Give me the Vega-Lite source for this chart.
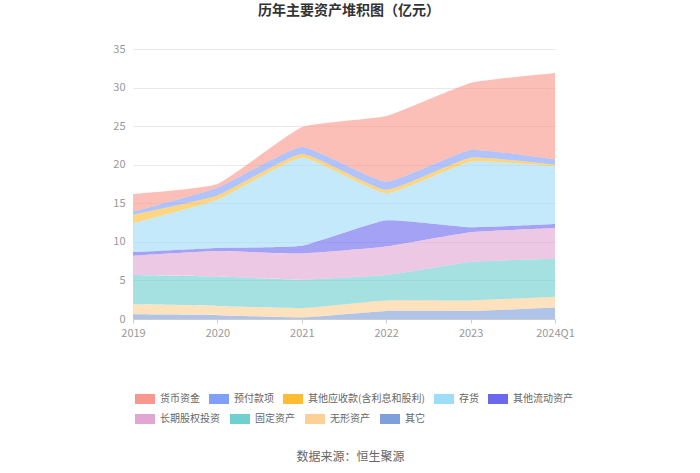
{
  "$schema": "https://vega.github.io/schema/vega-lite/v6.json",
  "width": 422,
  "height": 270,
  "autosize": "none",
  "padding": {"left": 133, "top": 49, "right": 145, "bottom": 154},
  "background": "white",
  "config": {
    "font": "Noto Sans CJK SC",
    "view": {"stroke": null}
  },
  "title": {
    "text": "历年主要资产堆积图（亿元）",
    "fontSize": 14,
    "fontWeight": "bold",
    "color": "#333333",
    "anchor": "middle",
    "offset": 25,
    "dx": 5
  },
  "data": {
    "values": [
      {"year": "2019", "asset": "其它", "k": 1, "value": 0.6},
      {"year": "2019", "asset": "无形资产", "k": 2, "value": 1.3},
      {"year": "2019", "asset": "固定资产", "k": 3, "value": 3.8},
      {"year": "2019", "asset": "长期股权投资", "k": 4, "value": 2.5},
      {"year": "2019", "asset": "其他流动资产", "k": 5, "value": 0.46},
      {"year": "2019", "asset": "存货", "k": 6, "value": 3.74},
      {"year": "2019", "asset": "其他应收款(含利息和股利)", "k": 7, "value": 1.1},
      {"year": "2019", "asset": "预付款项", "k": 8, "value": 0.4},
      {"year": "2019", "asset": "货币资金", "k": 9, "value": 2.3},

      {"year": "2020", "asset": "其它", "k": 1, "value": 0.5},
      {"year": "2020", "asset": "无形资产", "k": 2, "value": 1.2},
      {"year": "2020", "asset": "固定资产", "k": 3, "value": 3.8},
      {"year": "2020", "asset": "长期股权投资", "k": 4, "value": 3.3},
      {"year": "2020", "asset": "其他流动资产", "k": 5, "value": 0.4},
      {"year": "2020", "asset": "存货", "k": 6, "value": 6.25},
      {"year": "2020", "asset": "其他应收款(含利息和股利)", "k": 7, "value": 0.55},
      {"year": "2020", "asset": "预付款项", "k": 8, "value": 1.0},
      {"year": "2020", "asset": "货币资金", "k": 9, "value": 0.5},

      {"year": "2021", "asset": "其它", "k": 1, "value": 0.2},
      {"year": "2021", "asset": "无形资产", "k": 2, "value": 1.2},
      {"year": "2021", "asset": "固定资产", "k": 3, "value": 3.7},
      {"year": "2021", "asset": "长期股权投资", "k": 4, "value": 3.4},
      {"year": "2021", "asset": "其他流动资产", "k": 5, "value": 1.0},
      {"year": "2021", "asset": "存货", "k": 6, "value": 11.4},
      {"year": "2021", "asset": "其他应收款(含利息和股利)", "k": 7, "value": 0.5},
      {"year": "2021", "asset": "预付款项", "k": 8, "value": 0.9},
      {"year": "2021", "asset": "货币资金", "k": 9, "value": 2.55},

      {"year": "2022", "asset": "其它", "k": 1, "value": 1.04},
      {"year": "2022", "asset": "无形资产", "k": 2, "value": 1.36},
      {"year": "2022", "asset": "固定资产", "k": 3, "value": 3.3},
      {"year": "2022", "asset": "长期股权投资", "k": 4, "value": 3.7},
      {"year": "2022", "asset": "其他流动资产", "k": 5, "value": 3.4},
      {"year": "2022", "asset": "存货", "k": 6, "value": 3.5},
      {"year": "2022", "asset": "其他应收款(含利息和股利)", "k": 7, "value": 0.45},
      {"year": "2022", "asset": "预付款项", "k": 8, "value": 1.05},
      {"year": "2022", "asset": "货币资金", "k": 9, "value": 8.5},

      {"year": "2023", "asset": "其它", "k": 1, "value": 1.04},
      {"year": "2023", "asset": "无形资产", "k": 2, "value": 1.36},
      {"year": "2023", "asset": "固定资产", "k": 3, "value": 5.0},
      {"year": "2023", "asset": "长期股权投资", "k": 4, "value": 3.85},
      {"year": "2023", "asset": "其他流动资产", "k": 5, "value": 0.65},
      {"year": "2023", "asset": "存货", "k": 6, "value": 8.5},
      {"year": "2023", "asset": "其他应收款(含利息和股利)", "k": 7, "value": 0.5},
      {"year": "2023", "asset": "预付款项", "k": 8, "value": 1.0},
      {"year": "2023", "asset": "货币资金", "k": 9, "value": 8.7},

      {"year": "2024Q1", "asset": "其它", "k": 1, "value": 1.5},
      {"year": "2024Q1", "asset": "无形资产", "k": 2, "value": 1.4},
      {"year": "2024Q1", "asset": "固定资产", "k": 3, "value": 4.9},
      {"year": "2024Q1", "asset": "长期股权投资", "k": 4, "value": 4.0},
      {"year": "2024Q1", "asset": "其他流动资产", "k": 5, "value": 0.5},
      {"year": "2024Q1", "asset": "存货", "k": 6, "value": 7.5},
      {"year": "2024Q1", "asset": "其他应收款(含利息和股利)", "k": 7, "value": 0.2},
      {"year": "2024Q1", "asset": "预付款项", "k": 8, "value": 0.7},
      {"year": "2024Q1", "asset": "货币资金", "k": 9, "value": 11.2}
    ]
  },
  "transform": [
    {"stack": "value", "groupby": ["year"], "sort": [{"field": "k", "order": "ascending"}], "as": ["y0", "y1"]}
  ],
  "encoding": {
    "x": {
      "field": "year",
      "type": "ordinal",
      "scale": {"type": "point", "padding": 0},
      "axis": {
        "labelAngle": 0,
        "labelColor": "#999999",
        "labelFontSize": 11,
        "labelPadding": 4,
        "domainColor": "#cccccc",
        "tickColor": "#cccccc",
        "tickSize": 4,
        "title": "数据来源：恒生聚源",
        "titleFontSize": 12,
        "titleFontWeight": "normal",
        "titleColor": "#666666",
        "titleX": 217,
        "titleY": 132,
        "titleAnchor": "middle",
        "titleAlign": "center"
      }
    },
    "y": {
      "field": "y0",
      "type": "quantitative",
      "scale": {"domain": [0, 35]},
      "axis": {
        "values": [0, 5, 10, 15, 20, 25, 30, 35],
        "title": null,
        "domain": false,
        "ticks": false,
        "labelColor": "#999999",
        "labelFontSize": 11,
        "labelPadding": 8,
        "gridColor": "#e9e9e9"
      }
    },
    "y2": {"field": "y1"}
  },
  "layer": [
    {
      "transform": [{"filter": "datum.k >= 5"}],
      "mark": {"type": "area", "interpolate": "cardinal", "tension": 0.6, "opacity": 0.62},
      "encoding": {
        "color": {
          "field": "asset",
          "type": "nominal",
          "scale": {
            "domain": ["货币资金", "预付款项", "其他应收款(含利息和股利)", "存货", "其他流动资产"],
            "range": ["#f8978c", "#7f9ff8", "#fdbd33", "#9fdcf8", "#6a69ee"]
          },
          "legend": {
            "orient": "none",
            "legendX": 2,
            "legendY": 340,
            "direction": "horizontal",
            "title": null,
            "symbolType": "M-1,-0.5H1V0.5H-1Z",
            "symbolSize": 400,
            "symbolOpacity": 1,
            "symbolStrokeWidth": 0,
            "labelFontSize": 10,
            "labelColor": "#666666",
            "labelOffset": 5,
            "columnPadding": 9,
            "labelLimit": 300
          }
        },
        "detail": {"field": "k"}
      }
    },
    {
      "transform": [{"filter": "datum.k <= 4"}],
      "mark": {"type": "area", "interpolate": "cardinal", "tension": 0.6, "opacity": 0.62},
      "encoding": {
        "color": {
          "field": "asset",
          "type": "nominal",
          "scale": {
            "domain": ["长期股权投资", "固定资产", "无形资产", "其它"],
            "range": ["#e2a6d3", "#6fcfd1", "#fdd096", "#7f9fdb"]
          },
          "legend": {
            "orient": "none",
            "legendX": 2,
            "legendY": 360,
            "direction": "horizontal",
            "title": null,
            "symbolType": "M-1,-0.5H1V0.5H-1Z",
            "symbolSize": 400,
            "symbolOpacity": 1,
            "symbolStrokeWidth": 0,
            "labelFontSize": 10,
            "labelColor": "#666666",
            "labelOffset": 5,
            "columnPadding": 10,
            "labelLimit": 300
          }
        },
        "detail": {"field": "k"}
      }
    }
  ],
  "resolve": {"scale": {"color": "independent"}}
}
